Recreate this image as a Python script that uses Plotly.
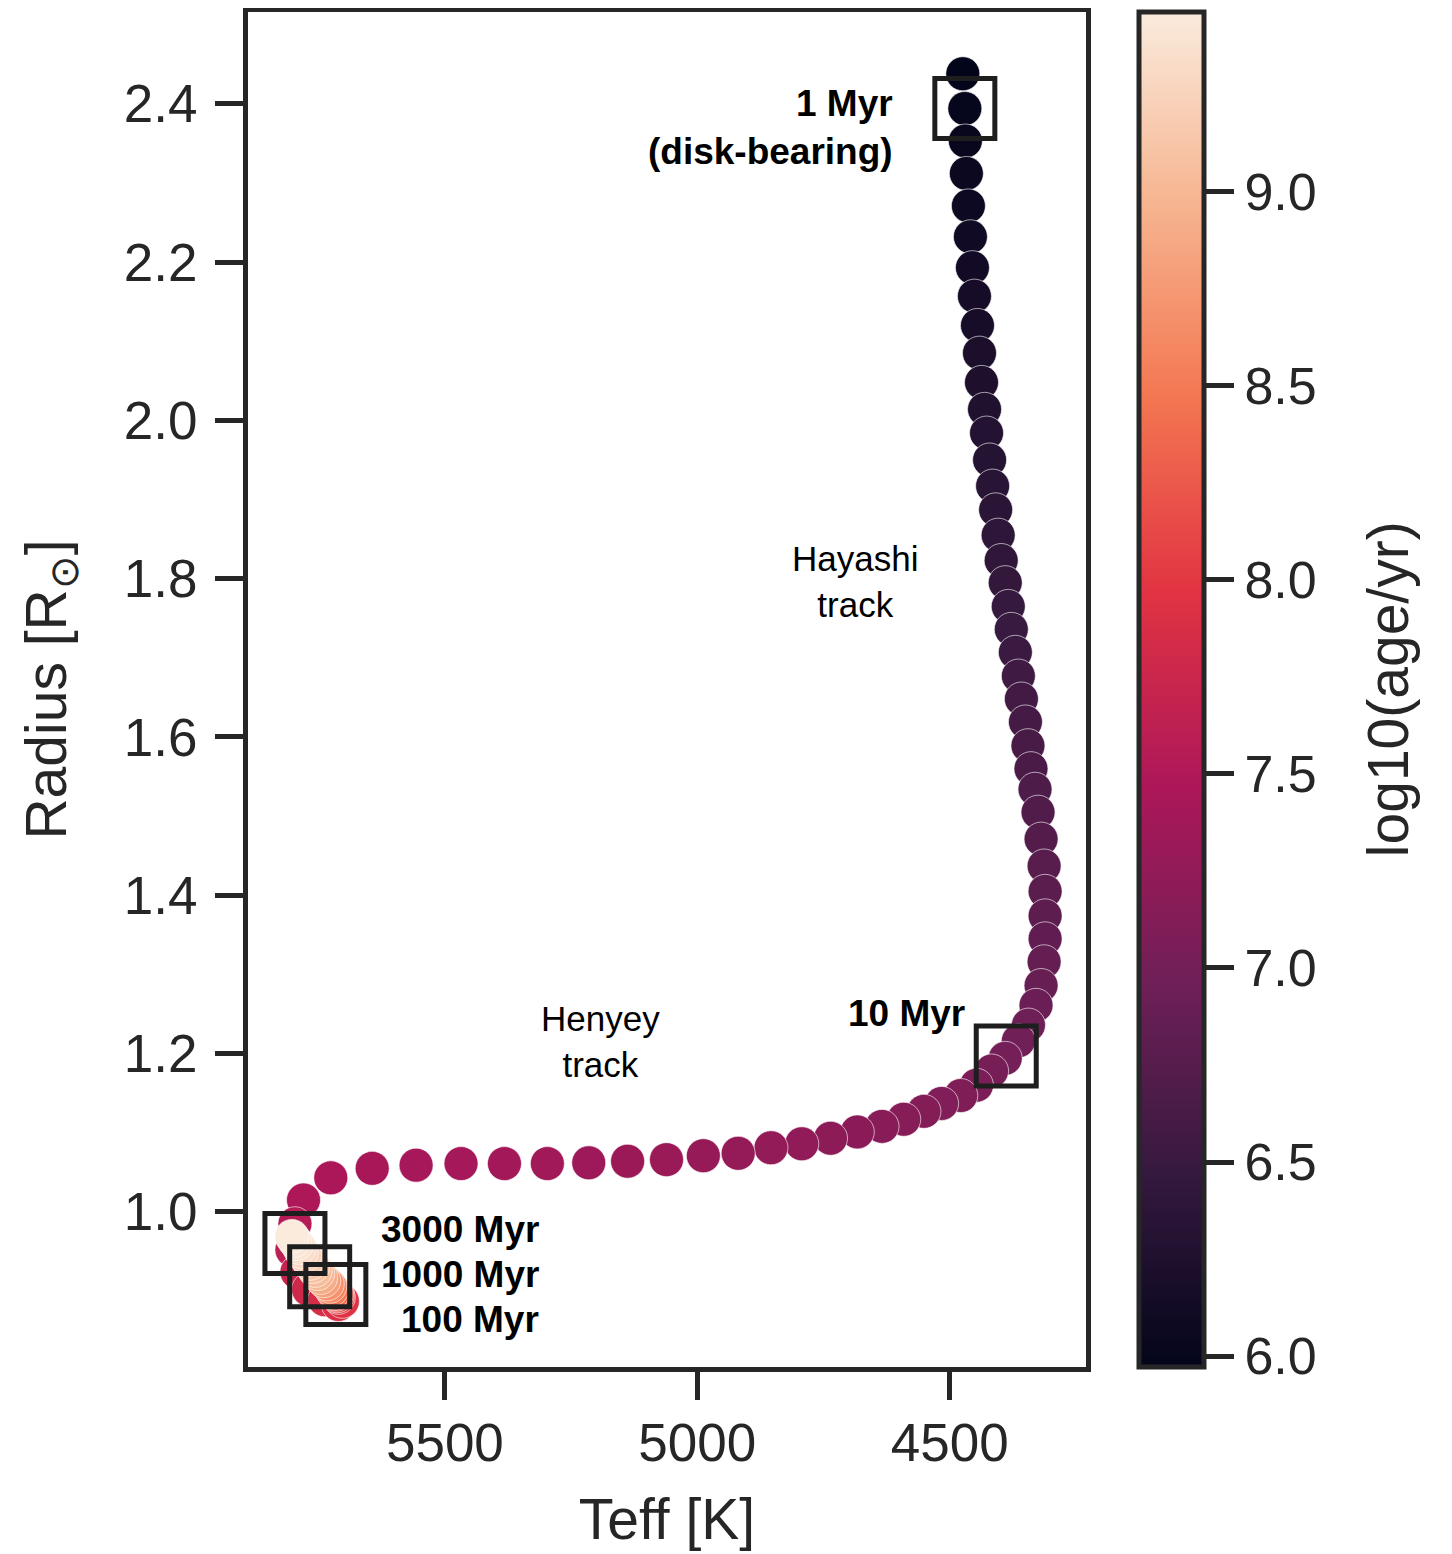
import plotly.graph_objects as go

# ---------------- data ----------------
teff = [4474, 4470, 4469, 4467, 4463, 4459, 4455, 4451, 4445, 4441,
        4437, 4431, 4427, 4421, 4415, 4409, 4404, 4398, 4390, 4384,
        4378, 4370, 4364, 4358, 4350, 4345, 4339, 4331, 4325, 4319,
        4313, 4311, 4311, 4311, 4313, 4319, 4329, 4344, 4364, 4390,
        4417, 4447, 4478, 4516, 4551, 4591, 4634, 4683, 4736, 4793,
        4854, 4919, 4988, 5061, 5138, 5215, 5297, 5382, 5468, 5557,
        5644, 5726,
        5780, 5797, 5803, 5793, 5770, 5738, 5711,
        5703, 5711, 5713, 5715, 5718, 5721, 5724, 5728, 5733, 5740, 5746,
        5752, 5757, 5762, 5767, 5772, 5778, 5784, 5788, 5793, 5798, 5803]
radius = [2.438, 2.394, 2.353, 2.312, 2.271, 2.232, 2.193, 2.157, 2.120, 2.085,
          2.048, 2.014, 1.984, 1.950, 1.917, 1.887, 1.855, 1.823, 1.795, 1.765,
          1.736, 1.707, 1.677, 1.648, 1.619, 1.589, 1.560, 1.534, 1.505, 1.471,
          1.437, 1.405, 1.374, 1.345, 1.316, 1.286, 1.261, 1.236, 1.216, 1.194,
          1.178, 1.160, 1.147, 1.137, 1.127, 1.117, 1.108, 1.101, 1.093, 1.086,
          1.081, 1.074, 1.071, 1.066, 1.064, 1.062, 1.061, 1.061, 1.061, 1.059,
          1.055, 1.043,
          1.015, 0.985, 0.952, 0.924, 0.902, 0.889, 0.883,
          0.887, 0.892, 0.894, 0.896, 0.897, 0.899, 0.902, 0.906, 0.909, 0.913, 0.917,
          0.922, 0.926, 0.931, 0.935, 0.940, 0.945, 0.950, 0.955, 0.960, 0.964, 0.969]
log_age = [5.972, 6.000, 6.026, 6.053, 6.079, 6.105, 6.132, 6.158, 6.184, 6.211,
           6.237, 6.263, 6.289, 6.316, 6.342, 6.368, 6.395, 6.421, 6.447, 6.474,
           6.500, 6.526, 6.553, 6.579, 6.605, 6.632, 6.658, 6.684, 6.711, 6.737,
           6.763, 6.789, 6.816, 6.842, 6.868, 6.895, 6.921, 6.947, 6.974, 7.000,
           7.03, 7.06, 7.09, 7.11, 7.13, 7.15, 7.17, 7.19, 7.21, 7.23,
           7.25, 7.27, 7.29, 7.31, 7.33, 7.35, 7.37, 7.38, 7.40, 7.41,
           7.43, 7.45,
           7.48, 7.55, 7.62, 7.70, 7.78, 7.85, 7.90,
           7.95, 8.00, 8.10, 8.20, 8.30, 8.40, 8.50, 8.60, 8.70, 8.80, 8.90,
           9.00, 9.05, 9.10, 9.15, 9.20, 9.25, 9.30, 9.35, 9.40, 9.43, 9.462]

# highlighted ages (boxes + labels)
box_teff = [4470, 4388, 5716, 5748, 5797]
box_radius = [2.394, 1.197, 0.8955, 0.918, 0.960]

x_ticks = [5500, 5000, 4500]
y_ticks = [1.0, 1.2, 1.4, 1.6, 1.8, 2.0, 2.2, 2.4]
cbar_ticks = [6.0, 6.5, 7.0, 7.5, 8.0, 8.5, 9.0]

rocket = [[0.0, "#03051a"], [0.143, "#35193e"], [0.286, "#701f57"],
          [0.429, "#ad1759"], [0.571, "#e13342"], [0.714, "#f37651"],
          [0.857, "#f6b48f"], [1.0, "#faebdd"]]

INK = "#262626"
FONT = "Liberation Sans, Arial, Helvetica, sans-serif"

fig = go.Figure()
fig.add_trace(go.Scatter(
    x=teff, y=radius, mode="markers",
    marker=dict(size=34, color=log_age, colorscale=rocket,
                cmin=min(log_age), cmax=max(log_age),
                line=dict(width=0.6, color="white"),
                colorbar=dict(
                    x=1.0627, xanchor="left", xpad=0,
                    y=0.5, yanchor="middle", len=1.0, ypad=0,
                    thickness=65, outlinewidth=5, outlinecolor=INK,
                    tickvals=cbar_ticks, tickformat=".1f",
                    tickprefix="<span style='color:rgba(0,0,0,0)'>.</span>",
                    ticks="outside", ticklen=28, tickwidth=5, tickcolor=INK,
                    tickfont=dict(size=52, color=INK, family=FONT))),
    showlegend=False, hoverinfo="skip"))

fig.add_trace(go.Scatter(
    x=box_teff, y=box_radius, mode="markers",
    marker=dict(symbol="square-open", size=60, color="#1e1e1e",
                line=dict(width=5, color="#1e1e1e")),
    showlegend=False, hoverinfo="skip"))

bold = dict(size=37, color="black", family=FONT)
reg = dict(size=35, color="black", family=FONT)
ann = [
    dict(x=4608, y=2.370, text="<b>1 Myr<br>(disk-bearing)</b>", xanchor="right", align="right", font=bold),
    dict(x=4466, y=1.251, text="<b>10 Myr</b>", xanchor="right", align="right", font=bold),
    dict(x=5309, y=0.9774, text="<b>3000 Myr</b>", xanchor="right", align="right", font=bold),
    dict(x=5309, y=0.9207, text="<b>1000 Myr</b>", xanchor="right", align="right", font=bold),
    dict(x=5309, y=0.8640, text="<b>100 Myr</b>", xanchor="right", align="right", font=bold),
    dict(x=4687, y=1.7964, text="Hayashi<br>track", xanchor="center", align="center", font=reg),
    dict(x=5191, y=1.2155, text="Henyey<br>track", xanchor="center", align="center", font=reg),
]
for a in ann:
    fig.add_annotation(xref="x", yref="y", showarrow=False, yanchor="middle", **a)

# colorbar label
fig.add_annotation(xref="paper", yref="paper", x=1.360, y=0.5, text="log10(age/yr)",
                   textangle=-90, showarrow=False, xanchor="center", yanchor="middle",
                   font=dict(size=57, color=INK, family=FONT))

axis_common = dict(showline=True, mirror=True, linewidth=5, linecolor=INK,
                   ticks="outside", ticklen=28, tickwidth=5, tickcolor=INK,
                   showgrid=False, zeroline=False,
                   tickfont=dict(size=53, color=INK, family=FONT))

fig.update_xaxes(range=[5890, 4230], tickvals=x_ticks, ticklabelstandoff=-3,
                 title=dict(text="Teff [K]", font=dict(size=57, color=INK, family=FONT), standoff=30),
                 **axis_common)
fig.update_yaxes(range=[0.804, 2.516], tickvals=y_ticks, tickformat=".1f", ticklabelstandoff=7,
                 title=dict(text="Radius [R<sub>⊙</sub>]", font=dict(size=57, color=INK, family=FONT), standoff=40),
                 **axis_common)

# page body has an 8px default margin, so the figure is 8px smaller and margins shifted
fig.update_layout(width=1444, height=1546,
                  margin=dict(l=240, r=366, t=4, b=187, autoexpand=False),
                  paper_bgcolor="white", plot_bgcolor="white",
                  font=dict(family=FONT, color=INK))

fig.write_html("out.html")
